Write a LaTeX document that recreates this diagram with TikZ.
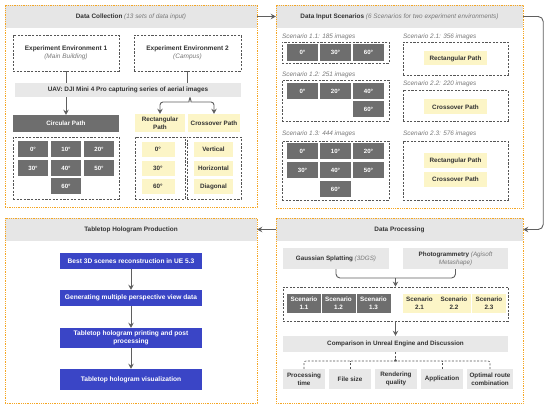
\documentclass[tikz,border=0pt]{standalone}
\usepackage{fontspec}
\setmainfont{Liberation Sans}
\usetikzlibrary{arrows.meta,calc}
\definecolor{orangeb}{RGB}{245,166,35}
\definecolor{hdr}{RGB}{230,230,230}
\definecolor{dcellc}{RGB}{110,110,110}
\definecolor{ycellc}{RGB}{252,245,199}
\definecolor{lboxc}{RGB}{232,232,232}
\definecolor{bluec}{RGB}{58,69,198}
\definecolor{txt}{RGB}{51,51,51}
\definecolor{itg}{RGB}{120,120,120}
\definecolor{dbor}{RGB}{85,85,85}
\definecolor{conc}{RGB}{95,95,95}
\tikzset{
  sz/.style 2 args={minimum width=#1, minimum height=#2},
  base/.style={font=\fontsize{6.4}{8}\selectfont, text=txt, inner sep=0pt, align=center},
  panel/.style={draw=orangeb, line width=0.9pt, dash pattern=on 0.9pt off 0.9pt, inner sep=0pt},
  header/.style={base, fill=hdr, font=\fontsize{6.4}{8}\selectfont\bfseries},
  dbox/.style={draw=dbor, line width=0.75pt, dash pattern=on 2.2pt off 1.4pt, inner sep=0pt, align=center, font=\fontsize{6.5}{8}\selectfont, text=txt},
  dcell/.style={base, fill=dcellc, text=white, font=\fontsize{6.1}{7.5}\selectfont\bfseries},
  ycell/.style={base, fill=ycellc, font=\fontsize{6.3}{7.8}\selectfont\bfseries},
  lbox/.style={base, fill=lboxc, font=\fontsize{6.3}{7.8}\selectfont\bfseries},
  bbox/.style={base, fill=bluec, text=white, font=\fontsize{6.6}{8.6}\selectfont\bfseries},
  conn/.style={draw=conc, line width=0.9pt},
  arr/.style={conn, -{Stealth[length=5pt,width=5.4pt]}},
  dline/.style={draw=dbor, line width=0.6pt, dash pattern=on 2pt off 1.6pt},
  lab/.style={base, anchor=west, font=\fontsize{6.4}{8}\selectfont\itshape, text=itg},
}
\newcommand{\itg}[1]{{\normalfont\itshape\color{itg}#1}}
\begin{document}
\begin{tikzpicture}[x=1pt,y=-1pt]
\useasboundingbox[fill=white] (0,0) rectangle (550,409);

% headers
\node[header, sz={252}{23}] (h1) at (131,16.5) {Data Collection \itg{(13 sets of data input)}};
\node[header, sz={247}{23}] (h2) at (399.5,16.5) {Data Input Scenarios \itg{(6 Scenarios for two experiment environments)}};
\node[header, sz={252}{23}] (h3) at (131,229.5) {Tabletop Hologram Production};
\node[header, sz={247}{23}] (h4) at (399.5,229.5) {Data Processing};

% panels
\node[panel, sz={252}{202}] (p1) at (131,106) {};
\node[panel, sz={247}{203}] (p2) at (399.5,106.5) {};
\node[panel, sz={252}{185}] (p3) at (131,310.5) {};
\node[panel, sz={247}{185}] (p4) at (399.5,310.5) {};

% ---------- Panel 1 ----------
\node[dbox, sz={106}{36}] (env1) at (66,53) {\textbf{Experiment Environment 1}\\\itg{(Main Building)}};
\node[dbox, sz={107}{36}] (env2) at (187.5,53) {\textbf{Experiment Environment 2}\\\itg{(Campus)}};
\node[lbox, sz={226}{14}, font=\fontsize{6.4}{8}\selectfont\bfseries] (uav) at (128,90) {UAV: DJI Mini 4 Pro capturing series of aerial images};
\node[dcell, sz={106}{17}, font=\fontsize{6.3}{8}\selectfont\bfseries] (circ) at (66,123.5) {Circular Path};
\node[ycell, sz={50}{18}] (rect) at (160,123) {Rectangular\\Path};
\node[ycell, sz={52}{18}] (cross) at (214,123) {Crossover Path};

\node[dbox, sz={106}{62}] (cbox) at (66,168) {};
\node[dcell, sz={30}{16}] (c0) at (33,149.5) {0°};
\node[dcell, sz={30}{16}] (c10) at (66,149.5) {10°};
\node[dcell, sz={30}{16}] (c20) at (99,149.5) {20°};
\node[dcell, sz={30}{16}] (c30) at (33,168) {30°};
\node[dcell, sz={30}{16}] (c40) at (66,168) {40°};
\node[dcell, sz={30}{16}] (c50) at (99,168) {50°};
\node[dcell, sz={30}{16}] (c60) at (66,186.5) {60°};

\node[dbox, sz={50}{62}] (rbox) at (160,168) {};
\node[ycell, sz={33}{15}] (r0) at (158,149.5) {0°};
\node[ycell, sz={33}{15}] (r30) at (158,168.5) {30°};
\node[ycell, sz={33}{15}] (r60) at (158,186.5) {60°};

\node[dbox, sz={54}{62}] (xbox) at (214,168) {};
\node[ycell, sz={39}{15}] (xv) at (213.5,149.5) {Vertical};
\node[ycell, sz={39}{15}] (xh) at (213.5,168.5) {Horizontal};
\node[ycell, sz={39}{15}] (xd) at (213.5,186.5) {Diagonal};

\draw[conn] (env1.south) -- (env1.south|-uav.north);
\draw[conn] (env2.south) -- (env2.south|-uav.north);
\draw[arr] (uav.south-|circ.north) -- (circ.north);
\coordinate (bt) at (190,97.5);
\draw[arr, rounded corners=3] (bt) to[out=-100,in=0] ($(bt)+(-4,4.5)$) -| (rect.north);
\draw[arr, rounded corners=3] (bt) to[out=-80,in=180] ($(bt)+(4,4.5)$) -| (cross.north);

% ---------- Panel 2 ----------
\node[lab] (l11) at (282,37) {Scenario 1.1: 185 images};
\node[dbox, sz={107}{21}] (s11) at (335.5,52.5) {};
\node[dcell, sz={31}{17}] (s11a) at (302.5,52.5) {0°};
\node[dcell, sz={31}{17}] (s11b) at (335.5,52.5) {30°};
\node[dcell, sz={31}{17}] (s11c) at (368.5,52.5) {60°};

\node[lab] (l12) at (282,75) {Scenario 1.2: 251 images};
\node[dbox, sz={107}{41}] (s12) at (335.5,100.5) {};
\node[dcell, sz={31}{16}] (s12a) at (302.5,91) {0°};
\node[dcell, sz={31}{16}] (s12b) at (335.5,91) {20°};
\node[dcell, sz={31}{16}] (s12c) at (368.5,91) {40°};
\node[dcell, sz={31}{16}] (s12d) at (368.5,109.5) {60°};

\node[lab] (l13) at (282,134) {Scenario 1.3: 444 images};
\node[dbox, sz={107}{59}] (s13) at (335.5,170.5) {};
\node[dcell, sz={31}{16}] (s13a) at (302.5,151) {0°};
\node[dcell, sz={31}{16}] (s13b) at (335.5,151) {10°};
\node[dcell, sz={31}{16}] (s13c) at (368.5,151) {20°};
\node[dcell, sz={31}{16}] (s13d) at (302.5,170) {30°};
\node[dcell, sz={31}{16}] (s13e) at (335.5,170) {40°};
\node[dcell, sz={31}{16}] (s13f) at (368.5,170) {50°};
\node[dcell, sz={31}{16}] (s13g) at (335.5,189) {60°};

\node[lab] (l21) at (403,37) {Scenario 2.1: 356 images};
\node[dbox, sz={105}{33}] (s21) at (455.5,58.5) {};
\node[ycell, sz={63}{14}] (s21a) at (455.5,58.5) {Rectangular Path};

\node[lab] (l22) at (403,84) {Scenario 2.2: 220 images};
\node[dbox, sz={105}{31}] (s22) at (455.5,105.5) {};
\node[ycell, sz={63}{15}] (s22a) at (455.5,107) {Crossover Path};

\node[lab] (l23) at (403,134) {Scenario 2.3: 576 images};
\node[dbox, sz={105}{59}] (s23) at (455.5,170.5) {};
\node[ycell, sz={63}{15}] (s23a) at (455.5,160.5) {Rectangular Path};
\node[ycell, sz={63}{15}] (s23b) at (455.5,179.5) {Crossover Path};

% ---------- Panel 3 ----------
\node[bbox, sz={142}{16}] (b1) at (131,261) {Best 3D scenes reconstruction in UE 5.3};
\node[bbox, sz={142}{16}] (b2) at (131,298) {Generating multiple perspective view data};
\node[bbox, sz={142}{20}] (b3) at (131,338) {Tabletop hologram printing and post\\processing};
\node[bbox, sz={142}{21}] (b4) at (131,379.5) {Tabletop hologram visualization};
\draw[arr] (b1) -- (b2);
\draw[arr] (b2) -- (b3);
\draw[arr] (b3) -- (b4);

% ---------- Panel 4 ----------
\node[lbox, sz={106}{21}] (gs) at (336,258.5) {Gaussian Splatting \itg{(3DGS)}};
\node[lbox, sz={105}{21}] (ph) at (455.5,258.5) {Photogrammetry \itg{(Agisoft}\\\itg{Metashape)}};
\node[dbox, sz={225}{34}] (sbox) at (395.5,304) {};
\node[dcell, sz={34}{19}, font=\fontsize{6.3}{7.6}\selectfont\bfseries] (sc11) at (304,303.5) {Scenario\\1.1};
\node[dcell, sz={34}{19}, font=\fontsize{6.3}{7.6}\selectfont\bfseries] (sc12) at (338.5,303.5) {Scenario\\1.2};
\node[dcell, sz={34}{19}, font=\fontsize{6.3}{7.6}\selectfont\bfseries] (sc13) at (373.5,303.5) {Scenario\\1.3};
\node[ycell, sz={34}{19}] (sc21) at (419.5,303.5) {Scenario\\2.1};
\node[ycell, sz={34}{19}] (sc22) at (454,303.5) {Scenario\\2.2};
\node[ycell, sz={34}{19}] (sc23) at (489,303.5) {Scenario\\2.3};

\coordinate (bm) at (395.5,278);
\draw[conn, rounded corners=4] (gs.south) -- (gs.south|-bm) -- (ph.south|-bm) -- (ph.south);
\draw[arr] (bm) -- (sbox.north);

\node[lbox, sz={225}{16}] (comp) at (395.5,344) {Comparison in Unreal Engine and Discussion};
\draw[arr] (sbox.south) -- (comp.north);

\node[lbox, sz={42}{20}] (o1) at (304,379) {Processing\\time};
\node[lbox, sz={42}{20}] (o2) at (350,379) {File size};
\node[lbox, sz={42}{20}] (o3) at (396,379) {Rendering\\quality};
\node[lbox, sz={42}{20}] (o4) at (442,379) {Application};
\node[lbox, sz={46}{20}] (o5) at (490,379) {Optimal route\\combination};

\coordinate (j) at (395.5,361);
\draw[dline] (comp.south) -- (j);
\draw[dline, rounded corners=2] (o1.north) -- (o1.north|-j) -- (o5.north|-j) -- (o5.north);
\draw[dline] (o2.north) -- (o2.north|-j);
\draw[dline] (o4.north) -- (o4.north|-j);
\fill[dbor] ($(j)+(-1.6,0.3)$) -- ($(j)+(0,-2.6)$) -- ($(j)+(1.6,0.3)$) -- cycle;

% ---------- panel connectors ----------
\draw[arr] (h1.east) -- (h2.west);
\draw[arr, rounded corners=5] (h2.east) -- ++(20,0) |- (h4.east);
\draw[arr] (h4.west) -- (h3.east);
\end{tikzpicture}
\end{document}
